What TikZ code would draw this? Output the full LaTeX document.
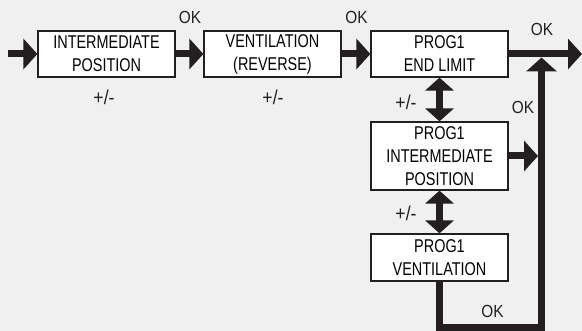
\documentclass[tikz,border=0pt]{standalone}
\usepackage{fontspec}
\setmainfont{Liberation Sans}
\newfontfamily\boxfont[FakeStretch=0.78]{Liberation Sans}
\newfontfamily\lblfont[FakeStretch=0.88]{Liberation Sans}
\usepackage{xcolor}
\usepackage{tikz}
\usetikzlibrary{arrows.meta,positioning}
\definecolor{panel}{HTML}{F0F0F0}
\definecolor{ink}{HTML}{231F20}

\tikzset{
  stage/.style={draw=ink, fill=white, line width=1.2pt, minimum width=137pt,
    align=center, inner sep=0pt, font=\boxfont\fontsize{18.5}{23}\selectfont},
  flow/.style={draw=ink, line width=7pt, line join=miter, -{Triangle[length=14pt,width=30pt]}},
  both/.style={draw=ink, line width=7pt, {Triangle[length=13pt,width=28pt]}-{Triangle[length=13pt,width=28pt]}},
  lbl/.style={text=ink, inner sep=0pt, font=\lblfont\fontsize{17.5}{20}\selectfont},
  pm/.style={lbl, font=\lblfont\fontsize{20}{22}\selectfont}
}

\begin{document}
\begin{tikzpicture}[x=1pt,y=-1pt]
    \fill[panel] (0,0) rectangle (582,331);
    \useasboundingbox (0,0) rectangle (582,331);

    % Boxes
    \node[stage, minimum height=46pt] (inter) at (106.5,54) {INTERMEDIATE\\POSITION};
    \node[stage, minimum height=46pt] (vent) at (272.5,54) {VENTILATION\\(REVERSE)};
    \node[stage, minimum height=46pt] (endlim) at (439.5,54) {PROG1\\END LIMIT};
    \node[stage, minimum height=68pt] (pinter) at (439.5,156) {PROG1\\INTERMEDIATE\\POSITION};
    \node[stage, minimum height=47pt] (pvent) at (439.5,257.5) {PROG1\\VENTILATION};

    % Helper points
    \coordinate (start) at (8,54);
    \coordinate (exit) at (582,54);
    \coordinate (rail) at (541.5,57.5);

    % Arrows
    \draw[flow] (start) -- (inter.west);
    \draw[flow] (inter.east) -- (vent.west);
    \draw[flow] (vent.east) -- (endlim.west);
    \draw[flow] (endlim.east) -- (exit);
    \draw[flow] (pvent.south) -- ++(0,46) -| (rail);
    \draw[flow, shorten >=3.5pt] (pinter.east) -- (pinter.east -| rail);
    \draw[both] (endlim.south) -- (pinter.north);
    \draw[both] (pinter.south) -- (pvent.north);

    % Labels
    \node[lbl] (ok1) at (190,17) {OK};
    \node[lbl] (ok2) at (356.5,17) {OK};
    \node[lbl] (ok3) at (542,29) {OK};
    \node[lbl] (ok4) at (523,107.5) {OK};
    \node[lbl] (ok5) at (492.5,311) {OK};
    \node[pm] (pm1) at (104,97) {+/-};
    \node[pm] (pm2) at (273,97) {+/-};
    \node[pm] (pm3) at (406,102) {+/-};
    \node[pm] (pm4) at (406,213) {+/-};
\end{tikzpicture}
\end{document}
